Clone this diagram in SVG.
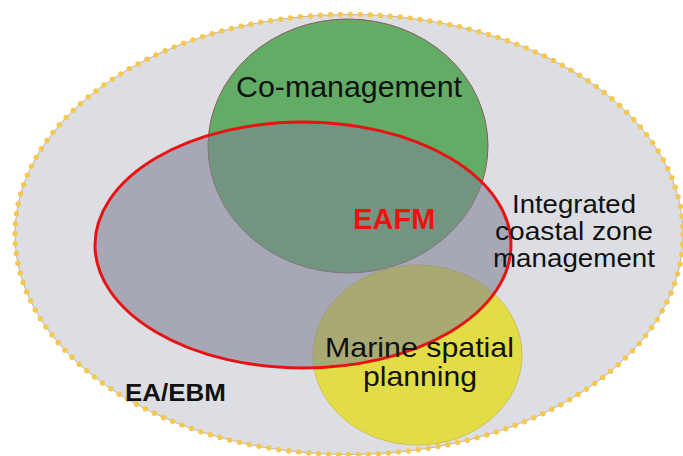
<svg xmlns="http://www.w3.org/2000/svg" width="683" height="456" viewBox="0 0 683 456">
  <style>
    .lbl { font-family: "Liberation Sans", Arial, sans-serif; fill: #111111; text-anchor: middle; }
    .bold { font-weight: bold; }
  </style>
  <rect width="683" height="456" fill="#ffffff"/>
  <g id="ea-ebm">
    <ellipse cx="349" cy="234.5" rx="334" ry="220" fill="#DDDEE3" stroke="#BDB4A6" stroke-width="1"/>
    <ellipse cx="349" cy="234.5" rx="334" ry="220" fill="none" stroke="#F5C850" stroke-width="5.5" stroke-linecap="round" stroke-dasharray="0 10"/>
  </g>
  <g id="co-management">
    <ellipse cx="348" cy="146" rx="140" ry="127" fill="#63AC66" stroke="#8A5A55" stroke-width="1"/>
  </g>
  <g id="marine-spatial-planning">
    <ellipse cx="417.5" cy="355" rx="104.5" ry="90" fill="#E2DD46" stroke="#D2C048" stroke-width="1"/>
  </g>
  <g id="eafm">
    <ellipse cx="303" cy="245" rx="208" ry="123" fill="#7E8394" fill-opacity="0.58" stroke="#E81212" stroke-width="3"/>
  </g>
  <g id="labels">
    <text class="lbl" x="349" y="97" font-size="30" textLength="226" lengthAdjust="spacingAndGlyphs">Co-management</text>
    <text class="lbl bold" x="394.3" y="229" font-size="30" textLength="82" lengthAdjust="spacingAndGlyphs" style="fill:#EE1111">EAFM</text>
    <text class="lbl" x="574" y="213" font-size="25" textLength="124" lengthAdjust="spacingAndGlyphs">Integrated</text>
    <text class="lbl" x="574" y="240" font-size="25" textLength="158" lengthAdjust="spacingAndGlyphs">coastal zone</text>
    <text class="lbl" x="574" y="267" font-size="25" textLength="162" lengthAdjust="spacingAndGlyphs">management</text>
    <text class="lbl" x="419.5" y="357" font-size="28" textLength="189" lengthAdjust="spacingAndGlyphs">Marine spatial</text>
    <text class="lbl" x="420" y="386" font-size="28" textLength="114" lengthAdjust="spacingAndGlyphs">planning</text>
    <text class="lbl bold" x="175.5" y="401" font-size="24.5" textLength="101" lengthAdjust="spacingAndGlyphs">EA/EBM</text>
  </g>
</svg>
